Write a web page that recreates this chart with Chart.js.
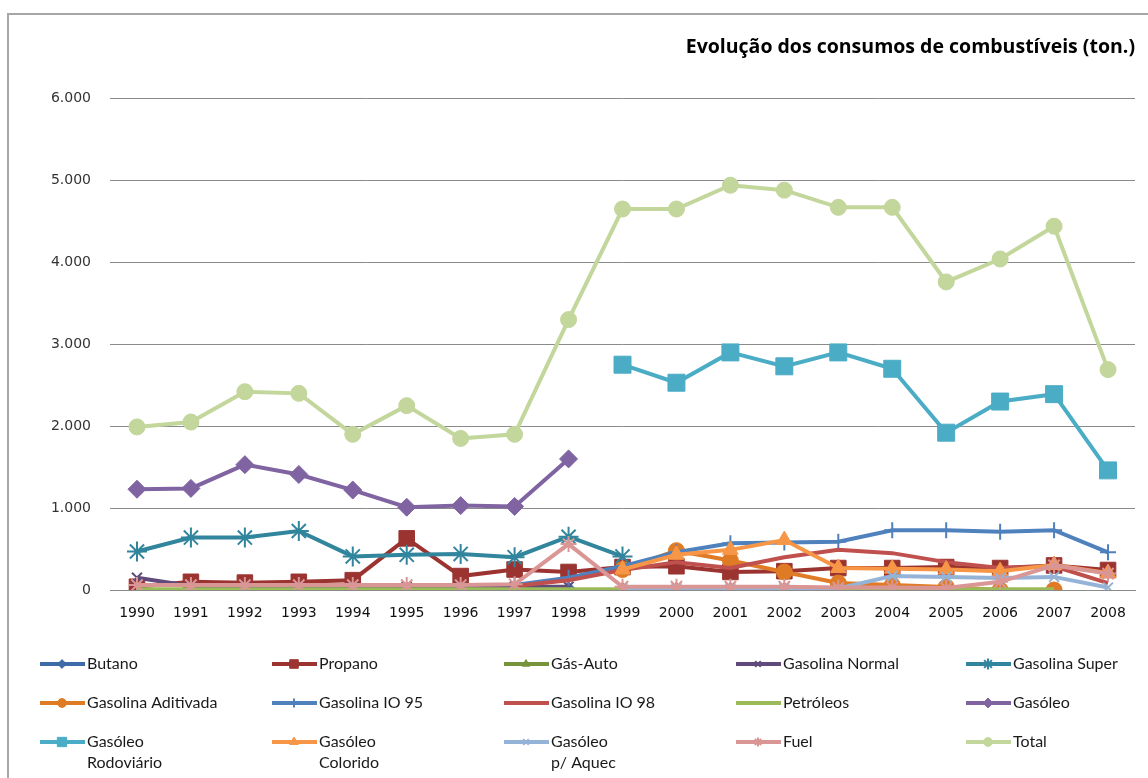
<!DOCTYPE html>
<html lang="pt">
<head>
<meta charset="UTF-8">
<title>Evolução dos consumos de combustíveis (ton.)</title>
<script src="https://cdn.jsdelivr.net/npm/chart.js@4"></script>
<style>
    body { margin: 0; background: #fff; }
    #chart { display: block; }
</style>
</head>
<body>
<canvas id="chart" width="1148" height="778"></canvas>
<script>
// Anos (categorias)
const years = ['1990','1991','1992','1993','1994','1995','1996','1997','1998','1999',
               '2000','2001','2002','2003','2004','2005','2006','2007','2008'];

// Consumos (ton.)
const butano            = [0, 0, 0, 0, 0, 0, 0, 0, 0, null, null, null, null, null, null, null, null, null, null];
const propano           = [40, 100, 90, 100, 120, 630, 170, 250, 220, 280, 290, 220, 230, 268, 268, 280, 268, 300, 244];
const gasAuto           = [null, null, null, null, null, null, null, null, null, 0, 0, 0, 0, 0, 0, 0, 0, 0, null];
const gasolinaNormal    = [150, 50, 50, 50, 40, 40, 40, 40, 40, null, null, null, null, null, null, null, null, null, null];
const gasolinaSuper     = [470, 640, 640, 720, 410, 430, 440, 400, 650, 410, null, null, null, null, null, null, null, null, null];
const gasolinaAditivada = [null, null, null, null, null, null, null, null, null, 250, 480, 360, 220, 85, 60, 37, 0, 0, null];
const gasolinaIO95      = [null, null, null, null, null, null, null, 60, 150, 290, 460, 570, 580, 590, 730, 730, 710, 730, 460];
const gasolinaIO98      = [null, null, null, null, null, null, null, 50, 120, 244, 340, 268, 400, 490, 450, 340, 268, 290, 85];
const petroleos         = [10, 10, 10, 10, 10, 10, 10, 10, 10, 10, 10, 10, 10, 10, 10, 10, 10, 10, null];
const gasoleo           = [1230, 1240, 1530, 1410, 1220, 1010, 1030, 1020, 1600, null, null, null, null, null, null, null, null, null, null];
const gasoleoRodoviario = [null, null, null, null, null, null, null, null, null, 2750, 2530, 2900, 2730, 2900, 2700, 1920, 2300, 2390, 1460];
const gasoleoColorido   = [null, null, null, null, null, null, null, null, null, 250, 430, 490, 610, 268, 260, 250, 230, 305, 207];
const gasoleoAquec      = [null, null, null, null, null, null, null, null, null, 20, 20, 20, 20, 20, 170, 160, 146, 160, 30];
const fuel              = [60, 60, 60, 60, 60, 60, 60, 70, 560, 40, 40, 40, 40, 30, 30, 25, 100, 300, 200];
const total             = [1990, 2050, 2420, 2400, 1900, 2250, 1850, 1900, 3300, 4650, 4650, 4940, 4880, 4670, 4670, 3760, 4040, 4440, 2690];

const yTicks = [0, 1000, 2000, 3000, 4000, 5000, 6000];

// helper: one line series
function serie(label, data, color, style, radius, bw) {
    return {
        label: label,
        data: data,
        borderColor: color,
        backgroundColor: color,
        pointBackgroundColor: color,
        pointBorderColor: color,
        pointStyle: style,
        pointRadius: radius,
        pointHoverRadius: radius,
        pointBorderWidth: bw,
        borderWidth: 4,
        tension: 0,
        fill: false,
        spanGaps: false
    };
}

const datasets = [
    serie('Butano', butano, '#3E6AA6', 'rectRot', 8, 1),
    serie('Propano', propano, '#9B3431', 'rect', 11, 1),
    serie('Gás-Auto', gasAuto, '#77933C', 'triangle', 8, 1),
    serie('Gasolina Normal', gasolinaNormal, '#604A7B', 'crossRot', 7, 2),
    serie('Gasolina Super', gasolinaSuper, '#31859C', 'star', 10, 2),
    serie('Gasolina Aditivada', gasolinaAditivada, '#E07B25', 'circle', 8, 1),
    serie('Gasolina IO 95', gasolinaIO95, '#4F81BD', 'cross', 8, 2),
    serie('Gasolina IO 98', gasolinaIO98, '#C0504D', 'circle', 0, 0),
    serie('Petróleos', petroleos, '#9BBB59', 'circle', 0, 0),
    serie('Gasóleo', gasoleo, '#8064A2', 'rectRot', 9, 1),
    serie('Gasóleo\nRodoviário', gasoleoRodoviario, '#4BACC6', 'rect', 12, 1),
    serie('Gasóleo\nColorido', gasoleoColorido, '#F79646', 'triangle', 9, 1),
    serie('Gasóleo\np/ Aquec', gasoleoAquec, '#95B3D7', 'crossRot', 7, 2),
    serie('Fuel', fuel, '#D99694', 'star', 8, 2),
    serie('Total', total, '#C3D69B', 'circle', 8, 1)
];
// Excel draws later series on top
datasets.forEach((d, i) => { d.order = datasets.length - i; });

// legend grid (5 columns x 3 rows)
const legendX = [40, 272, 504, 736, 966];
const legendY = [664, 703, 742];

const frameAndLegend = {
    id: 'frameAndLegend',
    beforeDraw(chart) {
        const ctx = chart.ctx;
        ctx.save();
        ctx.fillStyle = '#fff';
        ctx.fillRect(0, 0, chart.width, chart.height);
        ctx.strokeStyle = '#a6a6a6';
        ctx.lineWidth = 2;
        ctx.strokeRect(8, 14, 1200, 800);
        ctx.restore();
    },
    afterDraw(chart) {
        const ctx = chart.ctx;
        ctx.save();
        chart.data.datasets.forEach((ds, i) => {
            const x0 = legendX[i % 5];
            const y = legendY[Math.floor(i / 5)];
            ctx.strokeStyle = ds.borderColor;
            ctx.lineWidth = 4;
            ctx.beginPath();
            ctx.moveTo(x0, y);
            ctx.lineTo(x0 + 45, y);
            ctx.stroke();
            if (ds.pointRadius > 0 && Chart.helpers && Chart.helpers.drawPoint) {
                ctx.fillStyle = ds.borderColor;
                ctx.lineWidth = ds.pointBorderWidth;
                Chart.helpers.drawPoint(ctx, {
                    pointStyle: ds.pointStyle,
                    radius: Math.max(4, ds.pointRadius * 0.55),
                    rotation: 0,
                    borderWidth: ds.pointBorderWidth
                }, x0 + 22, y);
            }
            ctx.fillStyle = '#1a1a1a';
            ctx.font = '16px Lato';
            ctx.textAlign = 'left';
            ctx.textBaseline = 'middle';
            ds.label.split('\n').forEach((t, k) => ctx.fillText(t, x0 + 47, y + k * 21));
        });
        ctx.restore();
    }
};

new Chart(document.getElementById('chart'), {
    type: 'line',
    data: { labels: years, datasets: datasets },
    options: {
        responsive: false,
        animation: false,
        layout: { padding: { left: 0, right: 13, top: 0, bottom: 148 } },
        plugins: {
            legend: { display: false },
            tooltip: { enabled: false },
            title: {
                display: true,
                text: 'Evolução dos consumos de combustíveis (ton.)',
                align: 'end',
                color: '#000',
                font: { family: 'Open Sans', size: 19.5, weight: 'bold', lineHeight: 1.2 },
                padding: { top: 36, bottom: 39 }
            }
        },
        scales: {
            x: {
                offset: true,
                grid: { display: false, drawTicks: false },
                border: { display: true, color: '#8a8a8a', width: 1 },
                ticks: {
                    color: '#111',
                    font: { family: 'DejaVu Sans', size: 14 },
                    padding: 15,
                    maxRotation: 0,
                    autoSkip: false
                },
                afterFit(s) { s.height = 40; }
            },
            y: {
                min: 0,
                max: 6000,
                afterBuildTicks(s) { s.ticks = yTicks.map(v => ({ value: v })); },
                grid: { color: '#8a8a8a', lineWidth: 1, drawTicks: false },
                border: { display: false },
                ticks: {
                    color: '#333',
                    font: { family: 'DejaVu Sans', size: 14 },
                    padding: 19,
                    callback: v => String(v).replace(/\B(?=(\d{3})+(?!\d))/g, '.')
                },
                afterFit(s) { s.width = 110; }
            }
        }
    },
    plugins: [frameAndLegend]
});
</script>
</body>
</html>
